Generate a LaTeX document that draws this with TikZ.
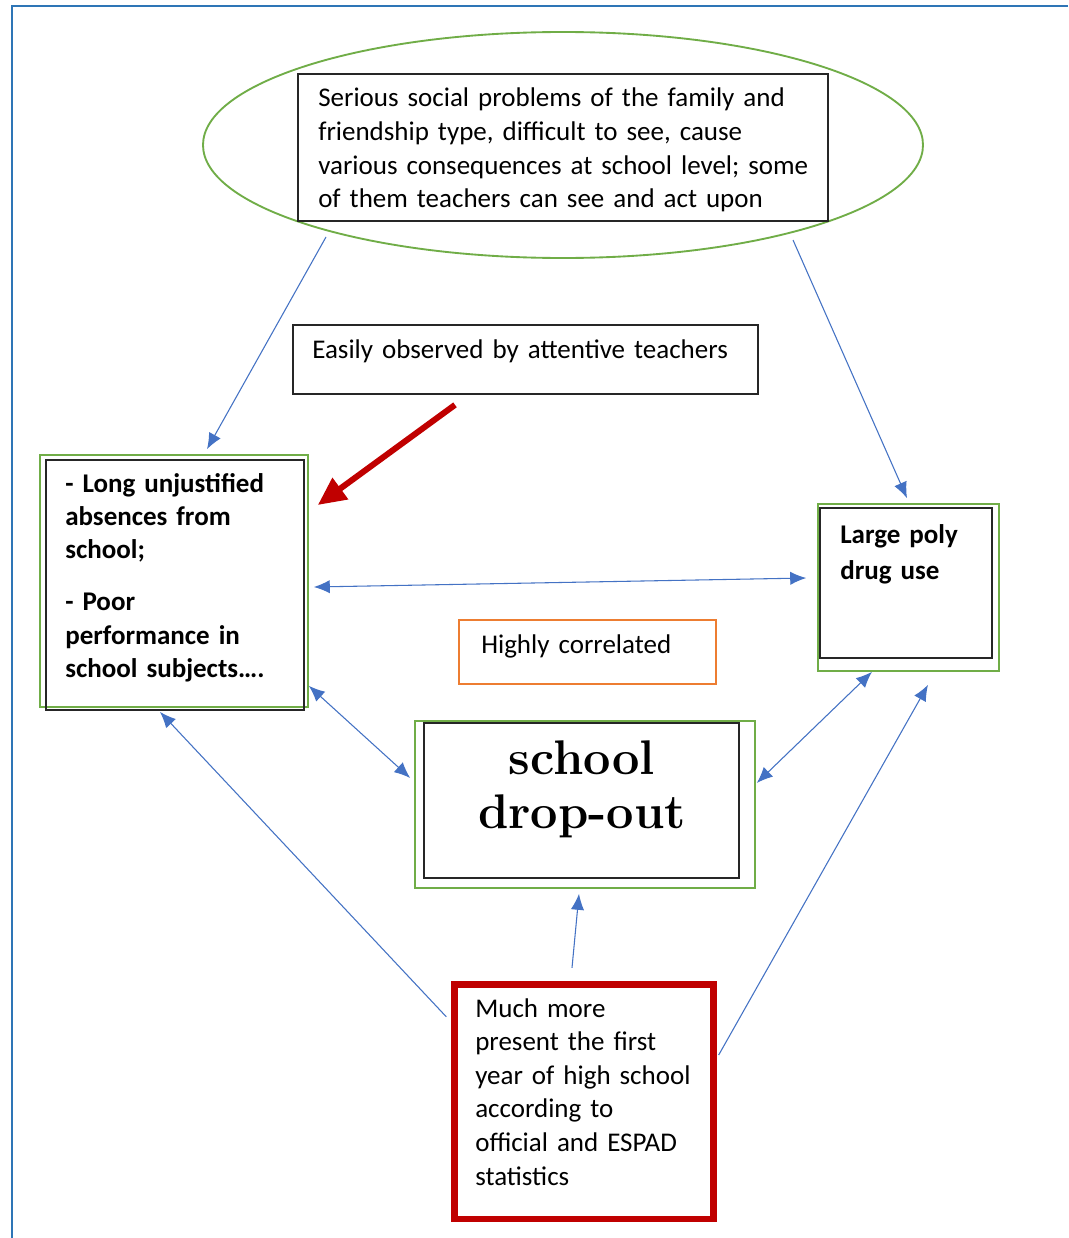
\documentclass[tikz,border=0pt]{standalone}
\usepackage{fontspec}
\setmainfont{Carlito}
\newfontfamily\lmfont{Latin Modern Roman}
\usetikzlibrary{arrows.meta,shapes.geometric,calc}
\definecolor{sgreen}{HTML}{70AD47}
\definecolor{linkblue}{HTML}{4472C4}
\definecolor{sred}{HTML}{C00000}
\definecolor{sorange}{HTML}{ED7D31}
\definecolor{frameblue}{HTML}{2E75B6}
\begin{document}
\begin{tikzpicture}[x=0.75pt,y=-0.75pt,
  greenbox/.style={draw=sgreen, line width=1.2pt, rectangle, inner sep=0pt},
  blackbox/.style={draw=black!85, line width=1.3pt, rectangle, inner sep=0pt},
  txt/.style={inner sep=0pt, anchor=base west, align=left, text width=420pt,
    font=\fontsize{20.25pt}{25.2pt}\selectfont},
  link/.style={draw=linkblue, line width=0.8pt, -{Latex[length=12pt,width=10pt]}},
  dlink/.style={draw=linkblue, line width=0.8pt, {Latex[length=12pt,width=10pt]}-{Latex[length=12pt,width=10pt]}}]
\useasboundingbox (0,0) rectangle (1068,1238);
\fill[white] (0,0) rectangle (1068,1238);
% frame
\draw[frameblue, line width=2pt] (1068,6) -- (12,6) -- (12,1238);

% top ellipse and box
\node[ellipse, draw=sgreen, line width=1.4pt, minimum width=540pt, minimum height=169.5pt, inner sep=0pt] (ell) at (563,145) {};
\node[blackbox, fill=white, minimum width=397.5pt, minimum height=110.25pt] (topbox) at (563,147.5) {};
\node[txt] (toptext) at (318,107) {Serious social problems of the family and\\friendship type, difficult to see, cause\\various consequences at school level; some\\of them teachers can see and act upon};

% easily observed
\node[blackbox, minimum width=348.75pt, minimum height=51.75pt] (easy) at (525.5,359.5) {};
\node[txt] (easytext) at (312,358) {Easily observed by attentive teachers};

% left box
\node[greenbox, minimum width=201pt, minimum height=189pt] (lg) at (174,581) {};
\node[blackbox, minimum width=193.5pt, minimum height=187.5pt] (lb) at (175,585) {};
\node[txt, font=\fontsize{20.25pt}{25pt}\selectfont\bfseries] (ltext) at (65,492) {- Long unjustified\\absences from\\school;\\[14pt]- Poor\\performance in\\school subjects….};

% right box
\node[greenbox, minimum width=135.75pt, minimum height=125.25pt] (rg) at (908.5,587.5) {};
\node[blackbox, minimum width=129pt, minimum height=112.5pt] (rb) at (906,583) {};
\node[txt, font=\fontsize{20.25pt}{27pt}\selectfont\bfseries] (rtext) at (840,543) {Large poly\\drug use};

% highly correlated
\node[draw=sorange, line width=0.9pt, rectangle, inner sep=0pt, minimum width=192.75pt, minimum height=48pt] (hc) at (587.5,652) {};
\node[txt] (hctext) at (481,653) {Highly correlated};

% center box
\node[greenbox, minimum width=255pt, minimum height=125.25pt] (cg) at (585,804.5) {};
\node[blackbox, minimum width=236.25pt, minimum height=116.25pt] (cb) at (581.5,800.5) {};
\node[inner sep=0pt, anchor=base, align=center, text width=230pt, font=\lmfont\fontsize{36.5pt}{40.5pt}\selectfont\bfseries] (ctext) at (582,774) {school\\drop-out};

% bottom red box
\node[draw=sred, line width=5pt, rectangle, inner sep=0pt, minimum width=194pt, minimum height=176pt] (red) at (584,1101.5) {};
\node[txt] (redtext) at (475,1017) {Much more\\present the first\\year of high school\\according to\\official and ESPAD\\statistics};

% connectors
\draw[link] ($(ell.center)+(-237,92)$) -- ($(lg.north)+(33,-5)$);
\draw[link] ($(ell.center)+(230,95)$) -- ($(rg.north)+(-1.5,-5)$);
\draw[dlink] ($(lg.east)+(5,6)$) -- ($(rg.west)+(-11,-9.5)$);
\draw[dlink] ($(lg.south east)+(0,-22)$) -- ($(cg.west)+(-4,-26.5)$);
\draw[dlink] ($(cg.east)+(1,-21.5)$) -- ($(rg.south)+(-36.5,0)$);
\draw[link] ($(red.north west)+(-5,36)$) -- ($(lb.south)+(-15,1)$);
\draw[link] ($(red.north)+(-12,-13)$) -- ($(cg.south)+(-6,5)$);
\draw[link] ($(red.east)+(2,-46.5)$) -- ($(rg.south)+(19.5,13)$);
\draw[sred, line width=4.5pt, -{Triangle[length=21pt,width=19pt]}] ($(easy.south)+(-70.5,10)$) -- ($(lg.east)+(9,-76)$);
\end{tikzpicture}
\end{document}
